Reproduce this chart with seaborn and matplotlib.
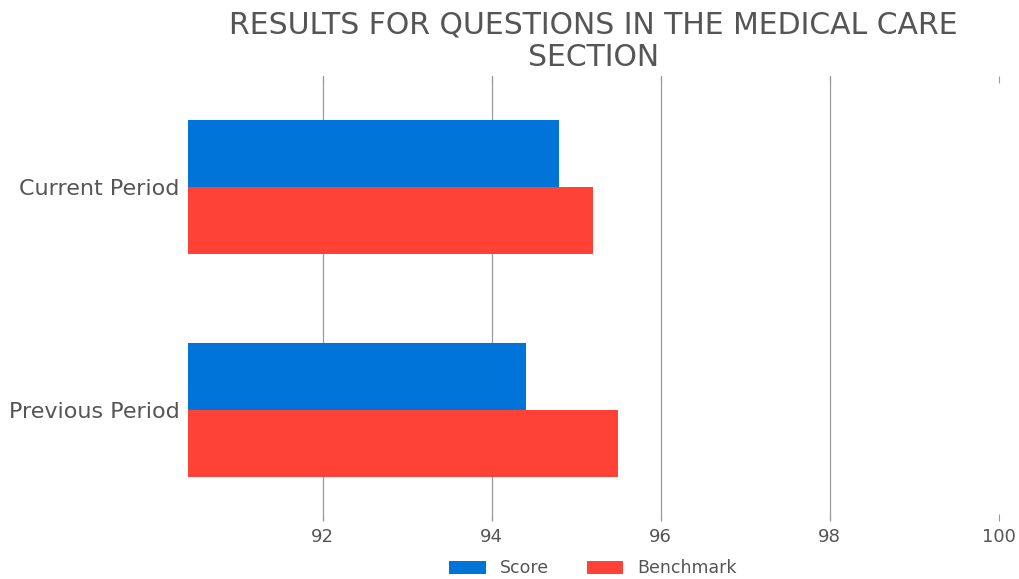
import matplotlib
matplotlib.use("Agg")
import matplotlib.pyplot as plt
import seaborn as sns
import pandas as pd

periods = ["Current Period", "Previous Period"]
score = [94.8, 94.4]
benchmark = [95.2, 95.5]
series_names = ["Score", "Benchmark"]
xticks = [92, 94, 96, 98, 100]

df = pd.DataFrame({
    "period": periods * 2,
    "value": score + benchmark,
    "series": [series_names[0]] * 2 + [series_names[1]] * 2,
})

sns.set_theme(style="white")
plt.rcParams['font.family'] = ['DejaVu Sans']

txt = "#555555"
fig = plt.figure(figsize=(10.2, 5.79), dpi=100)
ax = fig.add_axes([0.184, 0.100, 0.795, 0.769])
sns.barplot(data=df, y="period", x="value", hue="series", orient="h",
            palette=["#0074D9", "#FF4136"], width=0.6, ax=ax, saturation=1,
            linewidth=0)
ax.set_xlim(90.4, 100)
ax.set_ylim(1.5, -0.5)
ax.set_xticks(xticks)
ax.set_xticklabels([str(t) for t in xticks], fontsize=13, color=txt)
ax.set_ylabel("")
ax.set_xlabel("")
for lab in ax.get_yticklabels():
    lab.set_fontsize(16)
    lab.set_color(txt)
ax.tick_params(axis='y', length=0, pad=6)
ax.tick_params(axis='x', top=True, bottom=True, direction='in', length=5,
               color="#999999", width=0.8, pad=5)
ax.grid(axis='x', color="#999999", linewidth=0.9)
ax.set_axisbelow(True)
ax.xaxis.get_gridlines()[-1].set_visible(False)
for s in ax.spines.values():
    s.set_visible(False)
ax.set_title("RESULTS FOR QUESTIONS IN THE MEDICAL CARE\nSECTION", fontsize=21.5,
             color=txt, linespacing=1.15, pad=7)
leg = ax.legend(loc="upper center", bbox_to_anchor=(0.5, -0.078), ncol=2, frameon=False,
                handlelength=2.1, handleheight=0.75, columnspacing=2.2, fontsize=12.5,
                borderaxespad=0, borderpad=0.2)
for t in leg.get_texts():
    t.set_color(txt)
fig.savefig("out.png", dpi=100)
